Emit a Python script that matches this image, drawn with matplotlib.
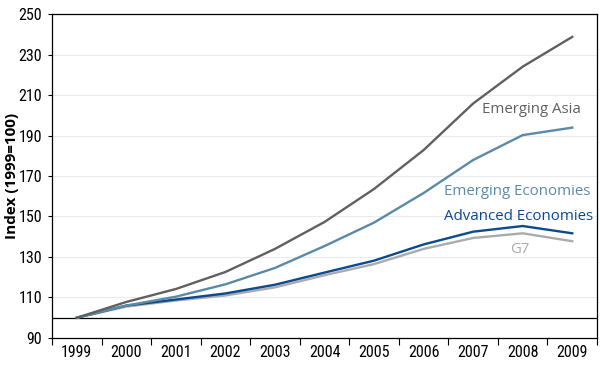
import matplotlib
matplotlib.use("Agg")
import matplotlib.pyplot as plt
from matplotlib import font_manager
import numpy as np

years = ["1999", "2000", "2001", "2002", "2003", "2004", "2005", "2006", "2007", "2008", "2009"]
emerging_asia = [100, 107.8, 114.2, 122.6, 134.0, 147.3, 163.6, 182.8, 205.8, 224.0, 238.7]
emerging_econ = [100, 106.0, 110.4, 116.5, 124.6, 135.4, 147.0, 161.6, 177.9, 190.2, 193.9]
advanced_econ = [100, 106.0, 109.0, 112.0, 116.3, 122.3, 128.2, 136.2, 142.5, 145.3, 141.7]
g7 = [100, 105.5, 108.5, 111.0, 115.0, 121.0, 126.5, 134.0, 139.4, 141.7, 137.8]
yticks = [90, 110, 130, 150, 170, 190, 210, 230, 250]

c_asia = "#5f6062"
c_emerg = "#5b8aa6"
c_adv = "#0a4a8f"
c_g7 = "#ababad"

# pick a narrow font for tick labels if one is available
fonts = font_manager.fontManager.ttflist
names = {f.name for f in fonts}
tick_family = None
tick_stretch = None
for cand in ["Liberation Sans Narrow", "Roboto Condensed", "Open Sans Condensed",
             "Noto Sans Condensed", "DejaVu Sans Condensed", "Noto Sans SemiCondensed"]:
    if cand in names:
        tick_family = cand
        break
if tick_family is None:
    def sval(s):
        if isinstance(s, str):
            return font_manager.stretch_dict.get(s, 500)
        return s
    for pref in ["Noto Sans", "DejaVu Sans", "Open Sans", "Roboto", "Lato", "Inter", "Liberation Sans"]:
        cands = [f for f in fonts if f.name == pref and sval(f.stretch) <= 400 and f.style == "normal"]
        if cands:
            tick_family = pref
            tick_stretch = "condensed"
            break
if tick_family is None:
    for f in fonts:
        if ("Condensed" in f.name or "Narrow" in f.name) and "Mono" not in f.name and "Serif" not in f.name:
            tick_family = f.name
            break
if tick_family is None:
    tick_family = "Liberation Sans"

fig = plt.figure(figsize=(6.0, 3.65), dpi=100)
ax = fig.add_axes([0.0867, 0.074, 0.9083, 0.8876])

x = np.arange(len(years))
lw = 1.7
ax.plot(x, g7, color=c_g7, lw=lw, solid_joinstyle="round")
ax.plot(x, advanced_econ, color=c_adv, lw=lw, solid_joinstyle="round")
ax.plot(x, emerging_econ, color=c_emerg, lw=lw, solid_joinstyle="round")
ax.plot(x, emerging_asia, color=c_asia, lw=lw, solid_joinstyle="round")

ax.axhline(100, color="black", lw=0.9, zorder=1)
for t in yticks[1:]:
    ax.axhline(t, color="#ebebeb", lw=0.8, zorder=0)

ax.set_xlim(-0.5, len(years) - 0.5)
ax.set_ylim(90, 250)
ax.set_yticks(yticks)
ax.set_xticks(x)
ax.set_xticklabels(years)
ax.set_xticks(np.arange(-0.5, len(years)), minor=True)
ax.tick_params(axis="x", which="major", length=0, pad=5)
ax.tick_params(axis="x", which="minor", length=5, width=0.8, direction="out")
ax.tick_params(axis="y", length=3, width=0.8, direction="out", pad=4)

big = tick_stretch is not None or tick_family != "Liberation Sans"
for lab in ax.get_xticklabels() + ax.get_yticklabels():
    lab.set_fontsize(11.5 if big else 10.5)
    lab.set_family([tick_family, "DejaVu Sans"])
    if tick_stretch:
        lab.set_stretch(tick_stretch)

for s in ax.spines.values():
    s.set_linewidth(0.9)
    s.set_color("black")

fig.text(0.02, 0.517, "Index (1999=100)", rotation=90, fontsize=11, fontweight="bold",
         family=["Open Sans", "DejaVu Sans"], ha="center", va="center")

lf = ["Open Sans", "DejaVu Sans"]
fs = 10.8
ax.text(8.17, 202.9, "Emerging Asia", color=c_asia, fontsize=fs, family=lf, va="center", ha="left")
ax.text(7.41, 162.4, "Emerging Economies", color=c_emerg, fontsize=fs, family=lf, va="center", ha="left")
ax.text(7.41, 150.0, "Advanced Economies", color=c_adv, fontsize=fs, family=lf, va="center", ha="left")
ax.text(8.95, 133.9, "G7", color=c_g7, fontsize=fs, family=lf, va="center", ha="center")

fig.savefig("out.png", dpi=100)
